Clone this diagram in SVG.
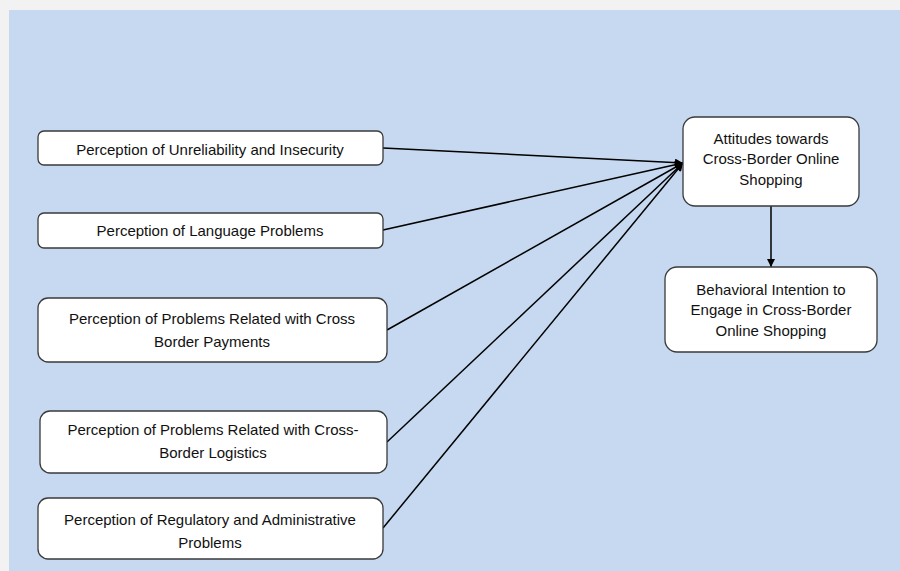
<svg xmlns="http://www.w3.org/2000/svg" width="900" height="571" viewBox="0 0 900 571">
<defs>
<style>
.box{fill:#fff;stroke:#3a3a3a;stroke-width:1.3}
.t{font-family:"Liberation Sans","Open Sans",Arial,sans-serif;font-size:15px;fill:#111;text-anchor:middle;dominant-baseline:central}
.c{stroke:#000;stroke-width:1.5;fill:none;marker-end:url(#ah)}
</style>
<marker id="ah" viewBox="0 0 10 10" refX="10" refY="5" markerWidth="9" markerHeight="8" orient="auto" markerUnits="userSpaceOnUse">
<path d="M0,0 L10,5 L0,10 z" fill="#000"/>
</marker>
</defs>
<rect x="0" y="0" width="900" height="571" fill="#f2f2f2"/>
<rect x="9" y="10" width="891" height="561" fill="#c6d9f0"/>
<g id="connectors">
<line class="c" x1="383" y1="148" x2="683" y2="163"/>
<line class="c" x1="383" y1="230" x2="683" y2="163"/>
<line class="c" x1="387" y1="330" x2="683" y2="163"/>
<line class="c" x1="387" y1="442" x2="683" y2="163"/>
<line class="c" x1="383" y1="528" x2="683" y2="163"/>
<line class="c" x1="771" y1="206" x2="771" y2="267"/>
</g>
<g id="n1"><rect class="box" x="38" y="131" width="345" height="34" rx="6"/><text class="t" x="210" y="149">Perception of Unreliability and Insecurity</text></g>
<g id="n2"><rect class="box" x="38" y="213" width="345" height="35" rx="6"/><text class="t" x="210" y="230">Perception of Language Problems</text></g>
<g id="n3"><rect class="box" x="38" y="298" width="349" height="64" rx="10"/><text class="t" x="212" y="318">Perception of Problems Related with Cross</text><text class="t" x="212" y="341">Border Payments</text></g>
<g id="n4"><rect class="box" x="40" y="411" width="347" height="62" rx="10"/><text class="t" x="213" y="429">Perception of Problems Related with Cross-</text><text class="t" x="213" y="452">Border Logistics</text></g>
<g id="n5"><rect class="box" x="38" y="498" width="345" height="61" rx="10"/><text class="t" x="210" y="519">Perception of Regulatory and Administrative</text><text class="t" x="210" y="542">Problems</text></g>
<g id="nA"><rect class="box" x="683" y="117" width="176" height="89" rx="12"/><text class="t" x="771" y="138">Attitudes towards</text><text class="t" x="771" y="158">Cross-Border Online</text><text class="t" x="771" y="179">Shopping</text></g>
<g id="nB"><rect class="box" x="665" y="267" width="212" height="85" rx="12"/><text class="t" x="771" y="289">Behavioral Intention to</text><text class="t" x="771" y="309">Engage in Cross-Border</text><text class="t" x="771" y="330">Online Shopping</text></g>
</svg>
